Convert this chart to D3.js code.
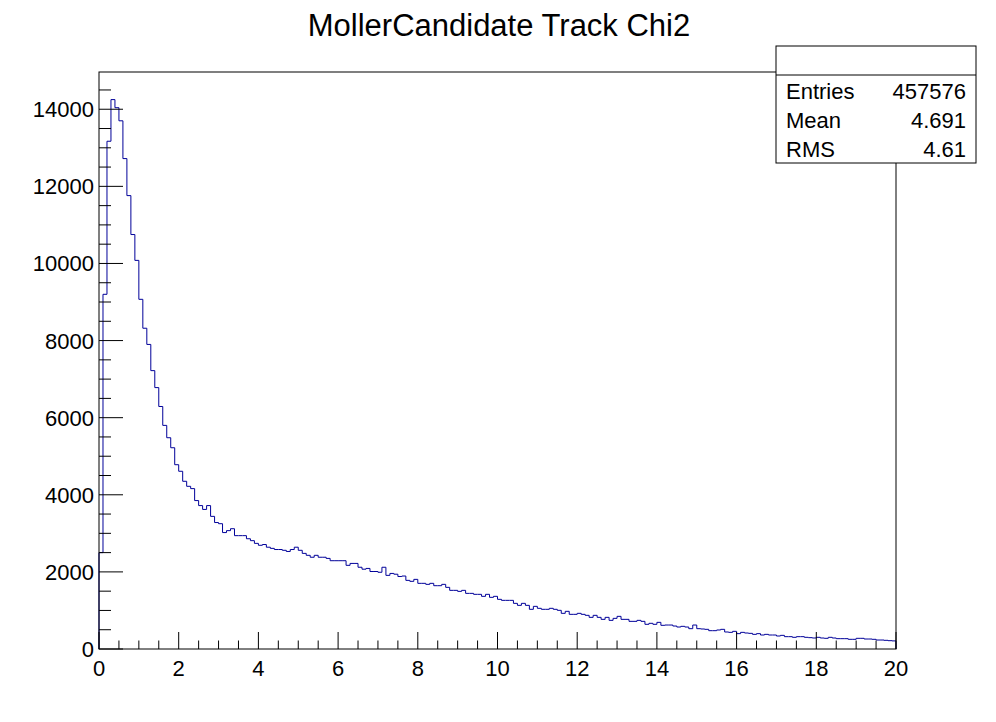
<!DOCTYPE html>
<html>
<head>
<meta charset="utf-8">
<script src="https://cdn.jsdelivr.net/npm/d3@7"></script>
<style>
  body { margin: 0; background: #fff; }
  text { font-family: "Liberation Sans", Arial, sans-serif; }
</style>
</head>
<body>
<div id="chart"></div>
<script>
// histogram: 200 bins of width 0.1 over [0, 20]
const binWidth = 0.1
const counts = [
  2500, 9200, 13170, 14250, 14040, 13700, 12720, 11760, 10750, 10080, 9070, 8320, 7900, 7220, 6780, 6290,
  5800, 5480, 5220, 4780, 4610, 4350, 4220, 4160, 3850, 3720, 3620, 3720, 3440, 3280, 3250, 3020, 3070, 3120,
  2940, 2940, 2940, 2860, 2810, 2740, 2690, 2710, 2640, 2610, 2580, 2580, 2560, 2530, 2580, 2640, 2560, 2480,
  2430, 2380, 2430, 2380, 2380, 2350, 2290, 2290, 2290, 2290, 2170, 2220, 2220, 2120, 2070, 2090, 2010, 2010,
  1990, 2120, 1910, 1960, 1940, 1880,
  1893, 1780, 1755, 1806, 1703, 1703, 1677, 1703, 1642, 1642, 1677, 1599, 1521, 1521, 1495, 1521, 1443, 1443,
  1418, 1418, 1366, 1418, 1340, 1366, 1288, 1262, 1262, 1262, 1184, 1132, 1184, 1132, 1029, 1106, 1055, 1029,
  1029, 1055, 1029, 1003, 925, 977, 899, 899, 925, 899, 873, 821, 873, 821, 769, 821, 743, 795, 847, 769, 769,
  717, 717, 743, 717,
  640, 666, 640, 691, 614, 622, 622, 596, 570, 588, 570, 527, 622, 527, 519, 510, 475, 475, 493, 510, 441, 432,
  458, 398, 432, 415, 406, 380, 398, 363, 380, 363, 363, 337, 354, 320, 320, 303, 320, 320, 303, 294, 285, 303,
  285, 277, 303, 285, 268, 268, 268, 251, 251, 277, 277, 259, 259, 251, 233, 233, 225, 216, 210
]
const xTicks = [0, 2, 4, 6, 8, 10, 12, 14, 16, 18, 20]
const yTicks = [0, 2000, 4000, 6000, 8000, 10000, 12000, 14000]
const statLabels = ['Entries', 'Mean', 'RMS']
const statValues = ['457576', '4.691', '4.61']
const title = 'MollerCandidate Track Chi2'

const svgWidth = 996, svgHeight = 722
const margin = {top: 72, right: 100, bottom: 73, left: 99}
const width = svgWidth - margin.left - margin.right
const height = svgHeight - margin.top - margin.bottom

const svg = d3.select('#chart').append('svg')
  .attr('width', svgWidth)
  .attr('height', svgHeight)

const x = d3.scaleLinear().domain([0, 20]).range([0, width])
const y = d3.scaleLinear().domain([0, 14966]).range([height, 0])

const plot = svg.append('g')
  .attr('transform', 'translate(' + margin.left + ',' + margin.top + ')')

// step outline of the histogram
let pts = [[0, 0]]
counts.forEach((c, i) => {
  pts.push([i * binWidth, c])
  pts.push([(i + 1) * binWidth, c])
})
pts.push([20, 0])
const line = d3.line().x(d => x(d[0])).y(d => y(d[1]))
plot.append('path')
  .attr('d', line(pts))
  .attr('fill', 'none')
  .attr('stroke', '#000099')
  .attr('stroke-width', 1)

// frame
plot.append('rect')
  .attr('width', width).attr('height', height)
  .attr('fill', 'none').attr('stroke', '#000').attr('stroke-width', 1)

// x ticks (drawn inward, like ROOT)
const xMinor = d3.range(0, 20.001, 0.5)
plot.selectAll('.xtick').data(xMinor).enter().append('line')
  .attr('x1', d => x(d)).attr('x2', d => x(d))
  .attr('y1', height)
  .attr('y2', d => height - (Math.abs(d % 2) < 1e-6 ? 17 : 8.5))
  .attr('stroke', '#000')
plot.selectAll('.xlab').data(xTicks).enter().append('text')
  .attr('x', d => x(d)).attr('y', height + 27)
  .attr('text-anchor', 'middle')
  .attr('font-size', 22)
  .text(d => d)

const yMinor = d3.range(0, 14966, 500)
plot.selectAll('.ytick').data(yMinor).enter().append('line')
  .attr('x1', 0)
  .attr('x2', d => d % 2000 === 0 ? 24 : 12)
  .attr('y1', d => y(d)).attr('y2', d => y(d))
  .attr('stroke', '#000')
plot.selectAll('.ylab').data(yTicks).enter().append('text')
  .attr('x', -5).attr('y', d => y(d) + 8)
  .attr('text-anchor', 'end')
  .attr('font-size', 22)
  .text(d => d)

svg.append('text')
  .attr('x', 499).attr('y', 36)
  .attr('text-anchor', 'middle')
  .attr('font-size', 31)
  .text(title)

// stats box
const box = svg.append('g').attr('transform', 'translate(776,46)')
box.append('rect')
  .attr('width', 200).attr('height', 117)
  .attr('fill', '#fff').attr('stroke', '#000')
box.append('line')
  .attr('x1', 0).attr('x2', 200).attr('y1', 29).attr('y2', 29)
  .attr('stroke', '#000')
statLabels.forEach((s, i) => {
  box.append('text').attr('x', 10).attr('y', 53 + i * 29)
    .attr('font-size', 22).text(s)
  box.append('text').attr('x', 190).attr('y', 53 + i * 29)
    .attr('text-anchor', 'end').attr('font-size', 22).text(statValues[i])
})
</script>
</body>
</html>
